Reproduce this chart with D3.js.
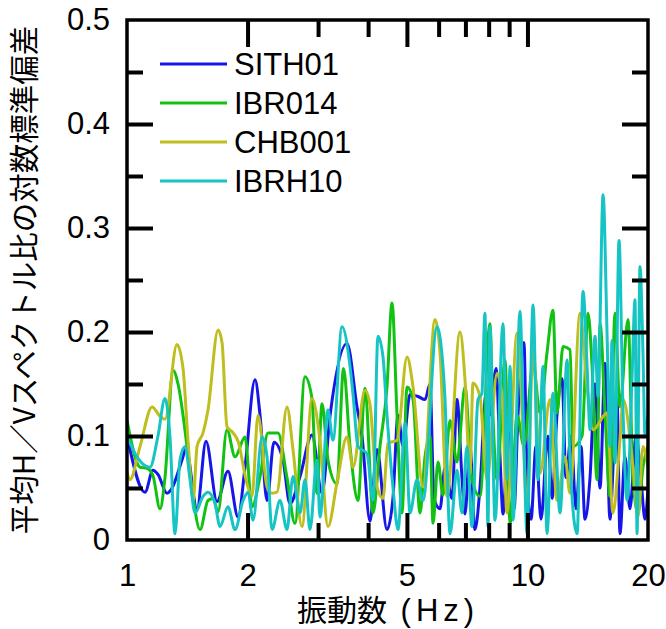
<!DOCTYPE html>
<html><head><meta charset="utf-8">
<script src="https://cdn.jsdelivr.net/npm/d3@7"></script>
<style>body{margin:0;background:#fff}</style>
</head><body><svg id="c" width="666" height="629"></svg>
<script>
const seriesNames = ["SITH01","IBR014","CHB001","IBRH10"];
const seriesColors = ["#1616e8","#12c212","#bebe1e","#16c4c4"];

const sith01 = [[1.0,0.100],[1.109,0.046],[1.161,0.067],[1.195,0.063],[1.259,0.045],[1.296,0.050],[1.372,0.077],[1.404,0.088],[1.496,0.030],[1.575,0.095],[1.678,0.037],[1.787,0.066],[1.894,0.022],[1.971,0.070],[2.088,0.154],[2.149,0.120],[2.237,0.038],[2.328,0.094],[2.452,0.077],[2.552,0.035],[2.704,0.061],[2.897,0.101],[3.069,0.045],[3.213,0.119],[3.543,0.189],[3.753,0.128],[3.862,0.100],[4.044,0.018],[4.21,0.087],[4.459,0.010],[4.614,0.040],[4.751,0.120],[4.89,0.090],[5.09,0.140],[5.33,0.138],[5.549,0.135],[5.71,0.150],[5.843,0.040],[6.048,0.030],[6.225,0.070],[6.48,0.040],[6.669,0.135],[6.863,0.060],[6.983,0.025],[7.186,0.090],[7.395,0.010],[7.61,0.050],[7.88,0.140],[8.06,0.120],[8.35,0.165],[8.54,0.080],[8.69,0.025],[8.99,0.120],[9.26,0.030],[9.47,0.120],[9.80,0.190],[9.975,0.060],[10.21,0.020],[10.50,0.090],[10.81,0.020],[11.25,0.100],[11.52,0.040],[11.85,0.120],[12.2,0.155],[12.48,0.060],[12.85,0.100],[13.22,0.030],[13.61,0.090],[13.92,0.020],[14.33,0.060],[14.75,0.150],[15.18,0.050],[15.62,0.170],[16.07,0.020],[16.45,0.090],[16.74,0.135],[17.02,0.006],[17.52,0.080],[18.03,0.030],[18.67,0.100],[19.2,0.060],[19.66,0.020],[20,0.050]];

const ibr014 = [[1.0,0.115],[1.078,0.070],[1.122,0.069],[1.161,0.062],[1.209,0.030],[1.244,0.060],[1.304,0.163],[1.341,0.150],[1.412,0.090],[1.453,0.050],[1.522,0.010],[1.593,0.038],[1.640,0.040],[1.688,0.027],[1.777,0.106],[1.861,0.080],[1.971,0.099],[2.052,0.032],[2.149,0.061],[2.25,0.103],[2.382,0.103],[2.509,0.060],[2.627,0.016],[2.783,0.157],[2.897,0.136],[2.981,0.045],[3.069,0.131],[3.176,0.077],[3.345,0.054],[3.473,0.165],[3.605,0.090],[3.775,0.038],[3.929,0.146],[4.115,0.026],[4.283,0.090],[4.459,0.147],[4.589,0.228],[4.724,0.120],[4.861,0.026],[5.003,0.147],[5.18,0.135],[5.392,0.026],[5.549,0.080],[5.71,0.100],[5.81,0.016],[5.98,0.075],[6.153,0.043],[6.406,0.115],[6.669,0.075],[6.983,0.147],[7.268,0.058],[7.61,0.042],[8.06,0.208],[8.20,0.120],[8.395,0.058],[8.79,0.173],[9.05,0.016],[9.42,0.120],[9.80,0.090],[10.33,0.170],[10.75,0.122],[11.19,0.180],[11.58,0.221],[11.85,0.122],[12.27,0.186],[12.77,0.183],[13.0,0.090],[13.69,0.100],[14.17,0.218],[14.5,0.167],[14.92,0.058],[15.18,0.208],[15.62,0.122],[16.07,0.042],[16.54,0.218],[17.02,0.128],[17.83,0.212],[18.35,0.058],[18.89,0.026],[19.43,0.070],[20,0.090]];

const chb001 = [[1.0,0.065],[1.017,0.058],[1.078,0.090],[1.155,0.128],[1.209,0.119],[1.244,0.116],[1.333,0.188],[1.380,0.165],[1.420,0.096],[1.463,0.038],[1.496,0.090],[1.548,0.103],[1.593,0.125],[1.688,0.202],[1.727,0.190],[1.777,0.109],[1.840,0.103],[1.894,0.095],[1.994,0.054],[2.052,0.042],[2.124,0.120],[2.237,0.051],[2.302,0.045],[2.369,0.046],[2.509,0.128],[2.597,0.087],[2.735,0.013],[2.897,0.136],[3.033,0.096],[3.176,0.013],[3.345,0.055],[3.543,0.099],[3.668,0.070],[3.929,0.144],[4.044,0.130],[4.21,0.051],[4.358,0.040],[4.484,0.093],[4.724,0.096],[5.003,0.176],[5.18,0.147],[5.485,0.051],[5.877,0.212],[6.048,0.180],[6.296,0.042],[6.786,0.200],[6.983,0.154],[7.186,0.064],[7.31,0.151],[7.61,0.138],[7.925,0.058],[8.395,0.160],[8.64,0.138],[8.89,0.026],[9.42,0.199],[9.80,0.083],[9.975,0.026],[10.33,0.186],[10.75,0.064],[11.38,0.135],[11.85,0.038],[12.41,0.080],[12.77,0.045],[13.53,0.218],[14.09,0.147],[14.58,0.106],[15.8,0.122],[16.35,0.026],[17.02,0.096],[17.33,0.135],[18.35,0.070],[18.89,0.022],[19.43,0.090],[20,0.070]];

const ibrh10 = [[1.0,0.100],[1.059,0.080],[1.096,0.073],[1.141,0.070],[1.195,0.100],[1.244,0.136],[1.280,0.100],[1.318,0.006],[1.356,0.077],[1.396,0.090],[1.437,0.058],[1.479,0.026],[1.548,0.042],[1.593,0.046],[1.659,0.035],[1.707,0.013],[1.787,0.032],[1.861,0.010],[1.949,0.038],[2.006,0.046],[2.064,0.019],[2.174,0.099],[2.237,0.080],[2.302,0.010],[2.41,0.038],[2.509,0.010],[2.597,0.061],[2.704,0.026],[2.783,0.058],[2.864,0.010],[2.981,0.077],[3.033,0.022],[3.176,0.125],[3.268,0.096],[3.443,0.205],[3.605,0.167],[3.668,0.140],[3.775,0.090],[3.975,0.083],[4.115,0.038],[4.234,0.196],[4.358,0.176],[4.459,0.120],[4.614,0.051],[4.751,0.010],[4.946,0.112],[5.09,0.026],[5.299,0.058],[5.485,0.038],[5.945,0.205],[6.048,0.195],[6.225,0.135],[6.406,0.006],[6.669,0.067],[6.863,0.026],[7.063,0.090],[7.268,0.013],[7.524,0.135],[7.698,0.141],[7.83,0.218],[7.97,0.013],[8.06,0.205],[8.30,0.019],[8.69,0.208],[8.89,0.058],[9.05,0.167],[9.21,0.019],[9.58,0.220],[9.80,0.090],[9.975,0.006],[10.33,0.226],[10.62,0.058],[10.94,0.167],[11.19,0.006],[11.58,0.141],[12.06,0.026],[12.56,0.173],[12.77,0.077],[13.3,0.006],[13.77,0.239],[14.09,0.167],[14.33,0.106],[14.75,0.196],[15.0,0.138],[15.45,0.332],[15.8,0.200],[16.07,0.090],[16.26,0.192],[16.54,0.074],[16.93,0.288],[17.33,0.122],[17.73,0.038],[18.24,0.154],[18.56,0.231],[18.78,0.006],[19.1,0.263],[19.43,0.180],[19.66,0.100],[20,0.120]];

const seriesData = [sith01, ibr014, chb001, ibrh10];

const xTickLabels = [1,2,5,10,20];
const xMajorTicks = [2,5,10];
const xMinorTicks = [3,4,6,7,8,9];
const yTickLabels = [0,0.1,0.2,0.3,0.4,0.5];
const yMajorTicks = [0.1,0.2,0.3,0.4];
const yMinorTicks = [0.05,0.15,0.25,0.35,0.45];

const xTitle1 = "振動数";
const xTitle2 = " (Hz)";
const yTitle = "平均H／Vスペクトル比の対数標準偏差";

const L=127, R=648, T=20, B=540;
const svg = d3.select("#c");
const x = d3.scaleLog().domain([1,20]).range([L,R]);
const y = d3.scaleLinear().domain([0,0.5]).range([B,T]);
const numFont = "'Liberation Sans', Arial, sans-serif";
const jpFont = "'Noto Sans CJK JP', sans-serif";

svg.append("defs").append("clipPath").attr("id","clip")
  .append("rect").attr("x",L).attr("y",T).attr("width",R-L).attr("height",B-T);

const line = d3.line().x(d=>x(d[0])).y(d=>y(d[1])).curve(d3.curveMonotoneX);
const g = svg.append("g").attr("clip-path","url(#clip)");
seriesData.forEach((s,i)=>{
  g.append("path").datum(s).attr("d",line).attr("fill","none")
    .attr("stroke",seriesColors[i]).attr("stroke-width",3).attr("stroke-linejoin","round");
});

function styleTicks(sel){
  sel.select(".domain").remove();
  sel.selectAll(".tick line").attr("stroke","#000").attr("stroke-width",4);
}
svg.append("g").attr("transform",`translate(0,${B})`).call(d3.axisBottom(x).tickValues(xMajorTicks).tickSize(-27).tickFormat("")).call(styleTicks);
svg.append("g").attr("transform",`translate(0,${B})`).call(d3.axisBottom(x).tickValues(xMinorTicks).tickSize(-17).tickFormat("")).call(styleTicks);
svg.append("g").attr("transform",`translate(0,${T})`).call(d3.axisTop(x).tickValues(xMajorTicks).tickSize(-27).tickFormat("")).call(styleTicks);
svg.append("g").attr("transform",`translate(0,${T})`).call(d3.axisTop(x).tickValues(xMinorTicks).tickSize(-17).tickFormat("")).call(styleTicks);
svg.append("g").attr("transform",`translate(${L},0)`).call(d3.axisLeft(y).tickValues(yMajorTicks).tickSize(-26).tickFormat("")).call(styleTicks);
svg.append("g").attr("transform",`translate(${L},0)`).call(d3.axisLeft(y).tickValues(yMinorTicks).tickSize(-16).tickFormat("")).call(styleTicks);
svg.append("g").attr("transform",`translate(${R},0)`).call(d3.axisRight(y).tickValues(yMajorTicks).tickSize(-26).tickFormat("")).call(styleTicks);
svg.append("g").attr("transform",`translate(${R},0)`).call(d3.axisRight(y).tickValues(yMinorTicks).tickSize(-16).tickFormat("")).call(styleTicks);

const xl = svg.append("g").attr("transform",`translate(0,${B})`)
  .call(d3.axisBottom(x).tickValues(xTickLabels).tickSize(0).tickPadding(24).tickFormat(d3.format("d")));
xl.select(".domain").remove();
xl.selectAll("text").attr("font-family",numFont).attr("font-size",31).attr("fill","#000");
const yl = svg.append("g").attr("transform",`translate(${L},0)`)
  .call(d3.axisLeft(y).tickValues(yTickLabels).tickSize(0).tickPadding(17).tickFormat(d=>d===0?"0":d3.format(".1f")(d)));
yl.select(".domain").remove();
yl.selectAll("text").attr("font-family",numFont).attr("font-size",31).attr("fill","#000");

svg.append("rect").attr("x",L).attr("y",T).attr("width",R-L).attr("height",B-T)
  .attr("fill","none").attr("stroke","#000").attr("stroke-width",3.5);

const lg = svg.append("g");
seriesNames.forEach((n,i)=>{
  const yy = 64 + i*39;
  lg.append("line").attr("x1",160).attr("x2",227).attr("y1",yy).attr("y2",yy)
    .attr("stroke",seriesColors[i]).attr("stroke-width",3);
  lg.append("text").attr("x",234).attr("y",yy).attr("dy","0.36em")
    .attr("font-family",numFont).attr("font-size",31).attr("fill","#000").text(n);
});

const xt = svg.append("text").attr("x",297).attr("y",621).attr("fill","#000");
xt.append("tspan").attr("font-family",jpFont).attr("font-size",30).text(xTitle1);
xt.append("tspan").attr("font-family",numFont).attr("font-size",31).attr("letter-spacing","5px").text(xTitle2);

svg.append("text").attr("transform","translate(25,280) rotate(-90)")
  .attr("text-anchor","middle").attr("dy","0.35em")
  .attr("font-family",jpFont).attr("font-size",29.5).attr("fill","#000").text(yTitle);
</script></body></html>
